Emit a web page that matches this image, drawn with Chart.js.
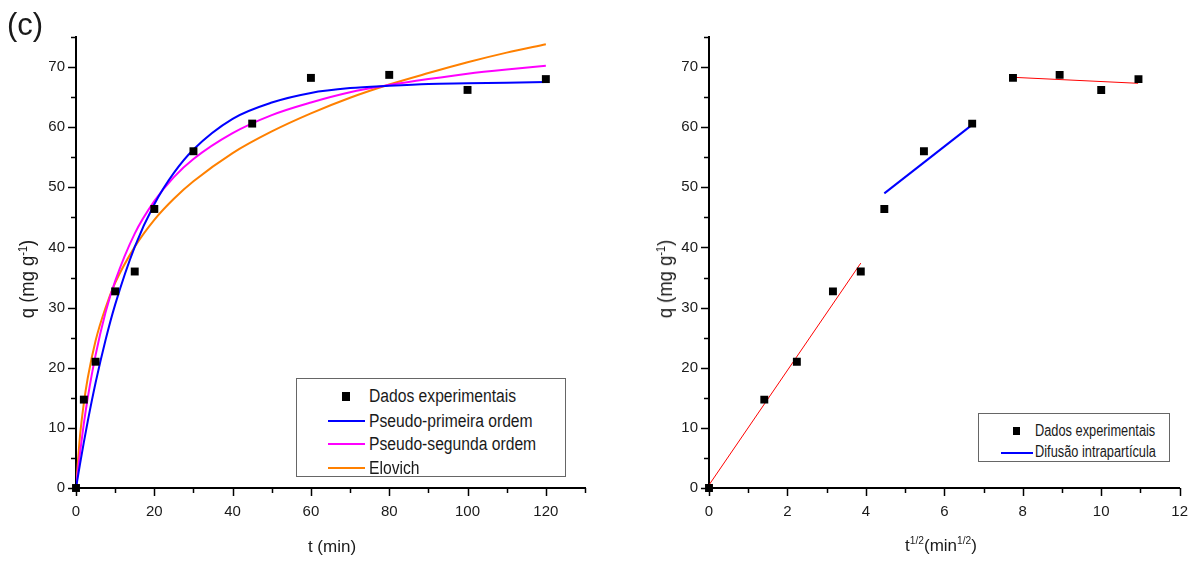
<!DOCTYPE html>
<html lang="pt">
<head>
    <meta charset="UTF-8">
    <title>Cinética de adsorção</title>
    <script src="https://cdn.jsdelivr.net/npm/chart.js"></script>
    <style>
        body {
    margin: 0;
    background: #fff;
    font-family: Arial, 'Liberation Sans', sans-serif;
    color: #1a1a1a;
}

.wrap {
    position: relative;
    width: 1192px;
    height: 562px;
    overflow: hidden;
}

canvas {
    position: absolute;
    top: 0;
}

/* text overlays */
.lbl {
    position: absolute;
    white-space: nowrap;
    line-height: 1;
}

.ytitle {
    font-size: 20px;
    transform: translate(-50%, -50%) rotate(-90deg) scaleX(0.92);
}

.xtitle {
    font-size: 17px;
    transform: translate(-50%, -50%);
}

sup {
    font-size: 0.6em;
    vertical-align: 0.6em;
    line-height: 0;
}

.legend {
    position: absolute;
    border: 1px solid #666;
    background: #fff;
    box-sizing: border-box;
}

.legend .row {
    position: absolute;
    left: 0;
    white-space: nowrap;
    line-height: 1;
    transform-origin: 0 50%;
}

.legend .sq {
    position: absolute;
    background: #000;
}

.legend .ln {
    position: absolute;
    height: 2px;
}
    </style>
</head>
<body>
<div class="wrap">
    <canvas id="kinChart" width="600" height="562" style="left:0"></canvas>
    <!-- a bit wider than the page: Chart.js reserves room right of the "12" label -->
    <canvas id="difChart" width="603" height="562" style="left:600px"></canvas>

    <div class="lbl" style="left:7px;top:9px;font-size:31px;">(c)</div>

    <div class="lbl ytitle" style="left:27px;top:279px;">q (mg g<sup>-1</sup>)</div>
    <div class="lbl xtitle" style="left:332px;top:546px;">t (min)</div>

    <div class="lbl ytitle" style="left:665px;top:279px;">q (mg g<sup>-1</sup>)</div>
    <div class="lbl xtitle" style="left:941px;top:545px;">t<sup>1/2</sup>(min<sup>1/2</sup>)</div>

    <!-- legend, left -->
    <div class="legend" style="left:296px;top:378px;width:270px;height:99px;font-size:18px;">
        <div class="sq" style="left:45px;top:13px;width:8px;height:9px;"></div>
        <div class="row" style="left:72px;top:8px;transform:scaleX(0.87);">Dados experimentais</div>
        <div class="ln" style="left:31px;top:41px;width:37px;background:#0000ff;"></div>
        <div class="row" style="left:72px;top:33px;transform:scaleX(0.87);">Pseudo-primeira ordem</div>
        <div class="ln" style="left:31px;top:64px;width:37px;background:#ff00ff;"></div>
        <div class="row" style="left:72px;top:56px;transform:scaleX(0.87);">Pseudo-segunda ordem</div>
        <div class="ln" style="left:31px;top:88px;width:37px;background:#ff8000;"></div>
        <div class="row" style="left:72px;top:80px;transform:scaleX(0.87);">Elovich</div>
    </div>

    <!-- legend, right -->
    <div class="legend" style="left:978px;top:413px;width:192px;height:49px;font-size:16px;">
        <div class="sq" style="left:34px;top:13px;width:7px;height:8px;"></div>
        <div class="row" style="left:56px;top:9px;transform:scaleX(0.8);">Dados experimentais</div>
        <div class="ln" style="left:22px;top:38px;width:32px;background:#0000ff;"></div>
        <div class="row" style="left:56px;top:30px;transform:scaleX(0.8);">Difusão intrapartícula</div>
    </div>
</div>

<script>
// experimental data
const tMin = [0, 2, 5, 10, 15, 20, 30, 45, 60, 80, 100, 120];
const qExp = [0, 14.7, 21.0, 32.7, 36.0, 46.4, 56.0, 60.6, 68.2, 68.7, 66.2, 68.0];
const tSqrt = [0, 1.41, 2.24, 3.16, 3.87, 4.47, 5.48, 6.71, 7.75, 8.94, 10.0, 10.95];

// fitted curves
const tFit = [0, 1, 2, 3, 5, 7.5, 10, 15, 20, 25, 30, 40, 50, 60, 70, 80, 90, 100, 110, 120];
const qPFO = [0, 3.9, 7.6, 11.1, 17.5, 24.5, 30.5, 40.1, 47.2, 52.4, 56.3, 61.4, 64.1, 65.7, 66.5, 66.9, 67.2, 67.3, 67.4, 67.5];
const qPSO = [0, 5.7, 10.7, 15.0, 22.1, 29.1, 34.4, 42.3, 47.7, 51.7, 54.7, 59.0, 62.0, 64.1, 65.8, 67.0, 68.0, 68.9, 69.6, 70.2];
const qElo = [0, 8.5, 14.1, 18.3, 24.5, 29.9, 34.1, 40.1, 44.6, 48.1, 51.0, 55.7, 59.3, 62.3, 64.9, 67.1, 69.0, 70.8, 72.4, 73.8];

// intraparticle diffusion segments
const seg1X = [0, 3.87];
const seg1Y = [0.5, 37.4];
const seg2X = [4.47, 6.69];
const seg2Y = [49.0, 60.3];
const seg3X = [7.74, 10.94];
const seg3Y = [68.3, 67.3];

// tick labels
const yLabels = [0, 10, 20, 30, 40, 50, 60, 70];
const xLabelsKin = [0, 20, 40, 60, 80, 100, 120];
const xLabelsDif = [0, 2, 4, 6, 8, 10, 12];

Chart.defaults.font.family = "Arial, 'Liberation Sans', sans-serif";
Chart.defaults.font.size = 15;
Chart.defaults.color = '#1a1a1a';

function pts(xs, ys) {
    return xs.map((x, i) => ({ x: x, y: ys[i] }));
}

// draws major / minor tick marks outside the axes
const tickMarks = {
    id: 'tickMarks',
    afterDraw(chart) {
        const ctx = chart.ctx;
        const xs = chart.scales.x;
        const ys = chart.scales.y;
        ctx.save();
        ctx.strokeStyle = '#000';
        ctx.lineWidth = 1.5;
        xs.ticks.forEach(t => {
            const px = Math.round(xs.getPixelForValue(t.value)) + 0.5;
            const len = t.label !== '' ? 8 : 5;
            ctx.beginPath();
            ctx.moveTo(px, xs.top);
            ctx.lineTo(px, xs.top + len);
            ctx.stroke();
        });
        ys.ticks.forEach(t => {
            const py = Math.round(ys.getPixelForValue(t.value)) + 0.5;
            const len = t.label !== '' ? 8 : 5;
            ctx.beginPath();
            ctx.moveTo(ys.right, py);
            ctx.lineTo(ys.right - len, py);
            ctx.stroke();
        });
        ctx.restore();
    }
};

function axes(xMax, xStep, xLabels, yWidth) {
    return {
        x: {
            type: 'linear',
            min: 0,
            max: xMax,
            grid: { display: true, drawOnChartArea: false, drawTicks: false },
            border: { display: true, color: '#000', width: 2 },
            ticks: {
                stepSize: xStep,
                autoSkip: false,
                maxRotation: 0,
                padding: 15,
                callback: v => xLabels.includes(v) ? String(v) : ''
            },
            afterFit: s => { s.height = 40; }
        },
        y: {
            type: 'linear',
            min: 0,
            max: 75,
            grid: { display: true, drawOnChartArea: false, drawTicks: false },
            border: { display: true, color: '#000', width: 2 },
            ticks: {
                stepSize: 5,
                autoSkip: false,
                padding: 11,
                callback: v => yLabels.includes(v) ? String(v) : ''
            },
            afterFit: s => { s.width = yWidth; }
        }
    };
}

const pointSet = data => ({
    data: data,
    pointStyle: 'rect',
    pointRadius: 5.6,
    pointHoverRadius: 5.6,
    backgroundColor: '#000',
    borderColor: '#000',
    borderWidth: 0,
    showLine: false,
    clip: 8,
    order: 0
});

const curve = (data, color, width) => ({
    data: data,
    borderColor: color,
    backgroundColor: color,
    borderWidth: width,
    pointRadius: 0,
    showLine: true,
    cubicInterpolationMode: 'monotone',
    order: 1
});

new Chart(document.getElementById('kinChart'), {
    type: 'scatter',
    data: {
        datasets: [
            pointSet(pts(tMin, qExp)),
            curve(pts(tFit, qPFO), '#0000ff', 2),
            curve(pts(tFit, qPSO), '#ff00ff', 2),
            curve(pts(tFit, qElo), '#ff8000', 2)
        ]
    },
    options: {
        responsive: false,
        animation: false,
        layout: { padding: { left: 0, top: 37, right: 15, bottom: 34 } },
        plugins: { legend: { display: false }, tooltip: { enabled: false } },
        scales: axes(130, 10, xLabelsKin, 76)
    },
    plugins: [tickMarks]
});

new Chart(document.getElementById('difChart'), {
    type: 'scatter',
    data: {
        datasets: [
            pointSet(pts(tSqrt, qExp)),
            curve(pts(seg1X, seg1Y), '#ff0000', 1),
            curve(pts(seg2X, seg2Y), '#0000ff', 2),
            curve(pts(seg3X, seg3Y), '#ff0000', 1)
        ]
    },
    options: {
        responsive: false,
        animation: false,
        layout: { padding: { left: 0, top: 37, right: 0, bottom: 34 } },
        plugins: { legend: { display: false }, tooltip: { enabled: false } },
        scales: axes(12, 1, xLabelsDif, 109)
    },
    plugins: [tickMarks]
});
</script>
</body>
</html>
